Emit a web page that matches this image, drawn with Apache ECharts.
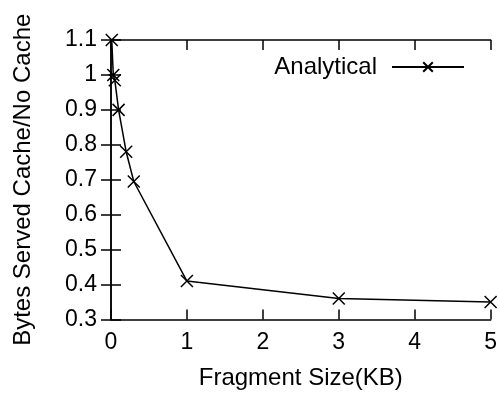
<!DOCTYPE html>
<html>
<head>
<meta charset="utf-8">
<script src="https://cdn.jsdelivr.net/npm/echarts@6/dist/echarts.min.js"></script>
<style>
html,body{margin:0;padding:0;background:#fff;}
#chart{width:500px;height:396px;}
</style>
</head>
<body>
<div id="chart"></div>
<script>
const seriesName = 'Analytical';
const fragmentSizes = [0.01, 0.03, 0.05, 0.1, 0.2, 0.3, 1, 3, 5];
const bytesRatio = [1.1, 1.0, 0.985, 0.9, 0.78, 0.695, 0.41, 0.36, 0.35];
const xTitle = 'Fragment Size(KB)';
const yTitle = 'Bytes Served Cache/No Cache';

const FONT = '"Liberation Sans", Arial, sans-serif';
const points = fragmentSizes.map((x, i) => [x, bytesRatio[i]]);
const crossPath = 'path://M0,0L12,12M0,12L12,0';

const lineStyleAxis = { color: '#000', width: 1.5 };
const mirrorX = {
  type: 'value', min: 0, max: 5, interval: 1, position: 'top',
  axisLine: { show: true, lineStyle: lineStyleAxis },
  axisTick: { show: true, inside: true, length: 10, lineStyle: lineStyleAxis },
  axisLabel: { show: false }, splitLine: { show: false }
};
const mirrorY = {
  type: 'value', min: 0.3, max: 1.1, interval: 0.1, position: 'right',
  axisLine: { show: true, lineStyle: lineStyleAxis },
  axisTick: { show: true, inside: true, length: 10, lineStyle: lineStyleAxis },
  axisLabel: { show: false }, splitLine: { show: false }
};

const chart = echarts.init(document.getElementById('chart'), null, { renderer: 'canvas' });
chart.setOption({
  animation: false,
  backgroundColor: '#fff',
  textStyle: { fontFamily: FONT },
  grid: { left: 111, right: 5, top: 40, bottom: 76.5 },
  legend: {
    data: [seriesName],
    right: 30, top: 50,
    align: 'right',
    itemWidth: 72, itemHeight: 12,
    textStyle: { fontFamily: FONT, fontSize: 24, color: '#000', padding: [0, 10, 0, 0] }
  },
  xAxis: [{
    type: 'value', min: 0, max: 5, interval: 1, position: 'bottom',
    name: xTitle, nameLocation: 'middle', nameGap: 47,
    nameTextStyle: { fontFamily: FONT, fontSize: 24, color: '#000' },
    axisLine: { show: true, onZero: false, lineStyle: lineStyleAxis },
    axisTick: { show: true, inside: true, length: 10, lineStyle: lineStyleAxis },
    axisLabel: { fontFamily: FONT, fontSize: 23, color: '#000', margin: 12 },
    splitLine: { show: false }
  }, mirrorX],
  yAxis: [{
    type: 'value', min: 0.3, max: 1.1, interval: 0.1, position: 'left',
    name: yTitle, nameLocation: 'middle', nameGap: 76, nameRotate: 90,
    nameTextStyle: { fontFamily: FONT, fontSize: 24, color: '#000' },
    axisLine: { show: true, onZero: false, lineStyle: lineStyleAxis },
    axisTick: { show: true, inside: true, length: 10, lineStyle: lineStyleAxis },
    axisLabel: { fontFamily: FONT, fontSize: 23, color: '#000', margin: 14,
      formatter: v => String(parseFloat(v.toFixed(1))) },
    splitLine: { show: false }
  }, mirrorY],
  series: [{
    name: seriesName,
    type: 'line',
    data: points,
    symbol: crossPath,
    symbolSize: 12,
    showAllSymbol: true,
    lineStyle: { color: '#000', width: 1.5 },
    itemStyle: { color: '#000', borderColor: '#000', borderWidth: 1.5 },
    clip: false
  }]
});
</script>
</body>
</html>
